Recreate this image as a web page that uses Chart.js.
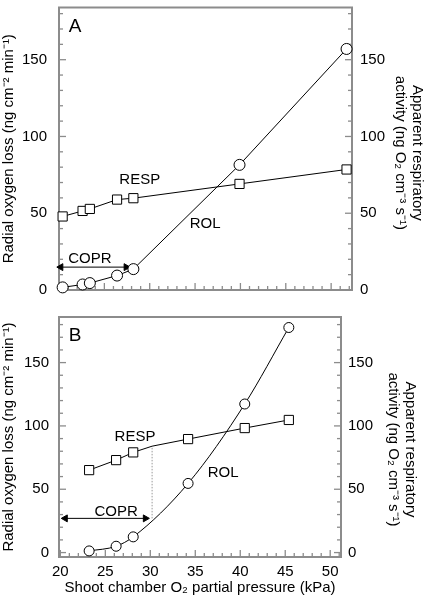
<!DOCTYPE html>
<html>
<head>
<meta charset="utf-8">
<script src="https://cdn.jsdelivr.net/npm/chart.js@4.4.1/dist/chart.umd.min.js"></script>
<style>
  body { margin: 0; background: #fff; width: 425px; height: 602px; overflow: hidden; position: relative; }
  .box { position: absolute; left: 0; width: 425px; }
</style>
</head>
<body>
<div class="box" style="top:0;height:300px"><canvas id="chartA"></canvas></div>
<div class="box" style="top:300px;height:302px"><canvas id="chartB"></canvas></div>
<script>
// panel A (shoot chamber O2, kPa)
const xA = [20.4, 22.6, 23.4, 26.4, 28.2, 39.9, 51.7]
const rolA = [1.7, 3.6, 4.5, 9.4, 13.6, 81.5, 157]
const respA = [47.9, 51.5, 52.8, 58.9, 59.8, 69.1, 78.5]
const coprAx = [20.2, 27.4]
const coprAy = [14.9, 14.9]

// panel B
const xB = [23.2, 26.2, 28.1, 34.2, 40.5, 45.4]
const rolB = [1.3, 5.0, 12.4, 54.6, 117.3, 177.7]
const xRespB = [23.2, 26.2, 28.1, 30.2, 34.2, 40.5, 45.4]
const respB = [65.1, 73.0, 79.1, 84, 89.6, 98.3, 104.7]
const coprBx = [20.55, 29.45]
const coprBy = [27, 27]
const dropBx = [30.2, 30.2]
const dropBy = [27, 84]

// ticks
const yTicks = [0, 10, 20, 30, 40, 50, 60, 70, 80, 90, 100, 110, 120, 130, 140, 150, 160, 170, 180]
const yTickLabels = [0, 50, 100, 150]
const xTicks = [20, 21, 22, 23, 24, 25, 26, 27, 28, 29, 30, 31, 32, 33, 34, 35, 36, 37, 38, 39, 40, 41, 42, 43, 44, 45, 46, 47, 48, 49, 50, 51, 52]
const xTickLabels = [20, 25, 30, 35, 40, 45, 50]

const FONT = "'Liberation Sans', Arial, Helvetica, sans-serif"
const axisGray = '#8c8c8c'

const pts = (xs, ys) => xs.map((x, i) => ({ x: x, y: ys[i] }))

// frame + inward ticks, then labels/notes
const frameTicks = {
  id: 'frameTicks',
  beforeDatasetsDraw(chart) {
    const { ctx, chartArea: a } = chart
    ctx.save()
    ctx.strokeStyle = axisGray
    ctx.lineWidth = 2
    ctx.strokeRect(a.left, a.top, a.right - a.left, a.bottom - a.top)
    ctx.lineWidth = 1.3
    for (const s of Object.values(chart.scales)) {
      s.ticks.forEach(t => {
        const p = s.getPixelForValue(t.value)
        ctx.beginPath()
        if (s.axis === 'x') {
          if (p < a.left || p > a.right) return
          const len = t.value % 5 === 0 ? 7 : 4
          ctx.moveTo(p, a.bottom); ctx.lineTo(p, a.bottom - len)
        } else {
          if (p < a.top || p > a.bottom) return
          const len = t.value % 50 === 0 ? 7 : 4
          if (s.position === 'left') { ctx.moveTo(a.left, p); ctx.lineTo(a.left + len, p) }
          else { ctx.moveTo(a.right, p); ctx.lineTo(a.right - len, p) }
        }
        ctx.stroke()
      })
    }
    ctx.restore()
  },
  afterDraw(chart, args, opts) {
    const { ctx, chartArea: a } = chart
    const sx = chart.scales.x, sy = chart.scales.y
    ctx.save()
    ctx.fillStyle = '#000'
    ctx.textAlign = 'center'
    ctx.textBaseline = 'middle'
    ctx.font = '15px ' + FONT
    opts.notes.forEach(n => ctx.fillText(n.text, sx.getPixelForValue(n.x), sy.getPixelForValue(n.y)))
    ctx.font = '19px ' + FONT
    ctx.fillText(opts.letter, a.left + 16, a.top + 19)
    ctx.restore()
  }
}

// keep the plot box exactly where the reference has it
const noPad = s => { s.paddingTop = 0; s.paddingBottom = 0; s.paddingLeft = 0; s.paddingRight = 0 }

function yAxis(pos, min, max, width, pad, title, titlePad) {
  return {
    type: 'linear', position: pos, min: min, max: max,
    afterBuildTicks: s => { s.ticks = yTicks.map(v => ({ value: v })) },
    afterFit: s => { s.width = width; noPad(s) },
    grid: { display: false, drawTicks: false },
    border: { display: false },
    ticks: {
      autoSkip: false, padding: pad, color: '#000',
      font: { family: FONT, size: 15 },
      callback: v => yTickLabels.includes(v) ? v : ''
    },
    title: {
      display: true, text: title, color: '#000',
      font: { family: FONT, size: 15, lineHeight: 1.1 },
      padding: { top: titlePad, bottom: 0 }
    }
  }
}

function xAxis(min, max, height, showLabels) {
  return {
    type: 'linear', min: min, max: max,
    afterBuildTicks: s => { s.ticks = xTicks.filter(v => v <= max).map(v => ({ value: v })) },
    afterFit: s => { s.height = height; noPad(s) },
    grid: { display: false, drawTicks: false },
    border: { display: false },
    ticks: {
      display: showLabels, autoSkip: false, maxRotation: 0, padding: 6, color: '#000',
      font: { family: FONT, size: 15 },
      callback: v => xTickLabels.includes(v) ? v : ''
    },
    title: {
      display: showLabels, text: 'Shoot chamber O₂ partial pressure (kPa)', color: '#000',
      font: { family: FONT, size: 15, lineHeight: 1.2 },
      padding: { top: 0, bottom: 5 }
    }
  }
}

const lineStyle = { borderColor: '#000', borderWidth: 1, pointBackgroundColor: '#fff', pointBorderColor: '#000', pointBorderWidth: 1, clip: false }

const leftTitle = 'Radial oxygen loss (ng cm⁻² min⁻¹)'

new Chart(document.getElementById('chartA'), {
  type: 'line',
  data: {
    datasets: [
      { ...lineStyle, label: 'ROL', data: pts(xA, rolA), yAxisID: 'y', pointStyle: 'circle', pointRadius: 5.5 },
      { ...lineStyle, label: 'RESP', data: pts(xA, respA), yAxisID: 'y2', pointStyle: 'rect', pointRadius: 6.5 },
      { ...lineStyle, label: 'COPR', data: pts(coprAx, coprAy), yAxisID: 'y', pointStyle: 'triangle',
        pointRotation: [-90, 90], pointRadius: 4, pointBackgroundColor: '#000' }
    ]
  },
  options: {
    responsive: true, maintainAspectRatio: false, animation: false,
    layout: { padding: { top: 2, bottom: 0, left: 0, right: 0 } },
    scales: {
      x: xAxis(20, 52.3, 10, false),
      y: yAxis('left', 0, 184, 59, 12, leftTitle, 1),
      y2: yAxis('right', 0, 184, 73, 8, ['  Apparent respiratory', '  activity (ng O₂ cm⁻³ s⁻¹)'], 0)
    },
    plugins: {
      legend: { display: false }, tooltip: { enabled: false },
      frameTicks: {
        letter: 'A',
        notes: [{ text: 'RESP', x: 28.9, y: 71.5 }, { text: 'ROL', x: 36.1, y: 42.8 }, { text: 'COPR', x: 23.4, y: 20.6 }]
      }
    }
  },
  plugins: [frameTicks]
})

new Chart(document.getElementById('chartB'), {
  type: 'line',
  data: {
    datasets: [
      { ...lineStyle, label: 'ROL', data: pts(xB, rolB), yAxisID: 'y', pointStyle: 'circle', pointRadius: 5,
        cubicInterpolationMode: 'monotone' },
      { ...lineStyle, label: 'RESP', data: pts(xRespB, respB), yAxisID: 'y2', pointStyle: 'rect',
        pointRadius: [6.5, 6.5, 6.5, 0, 6.5, 6.5, 6.5] },
      { ...lineStyle, label: 'COPR', data: pts(coprBx, coprBy), yAxisID: 'y', pointStyle: 'triangle',
        pointRotation: [-90, 90], pointRadius: 4, pointBackgroundColor: '#000' },
      { label: 'drop', data: pts(dropBx, dropBy), yAxisID: 'y', borderColor: '#999', borderWidth: 1,
        borderDash: [1.5, 1.5], pointRadius: 0 }
    ]
  },
  options: {
    responsive: true, maintainAspectRatio: false, animation: false,
    layout: { padding: { top: 17, bottom: 0, left: 0, right: 0 } },
    scales: {
      x: xAxis(19.85, 51.2, 45, true),
      y: yAxis('left', -3.5, 186, 59, 10, leftTitle, 1),
      y2: yAxis('right', -3.5, 186, 84, 7, ['      Apparent respiratory', '      activity (ng O₂ cm⁻³ s⁻¹)'], 7)
    },
    plugins: {
      legend: { display: false }, tooltip: { enabled: false },
      frameTicks: {
        letter: 'B',
        notes: [{ text: 'RESP', x: 28.3, y: 91.2 }, { text: 'ROL', x: 38.1, y: 62.7 }, { text: 'COPR', x: 26.2, y: 32.1 }]
      }
    }
  },
  plugins: [frameTicks]
})
</script>
</body>
</html>
